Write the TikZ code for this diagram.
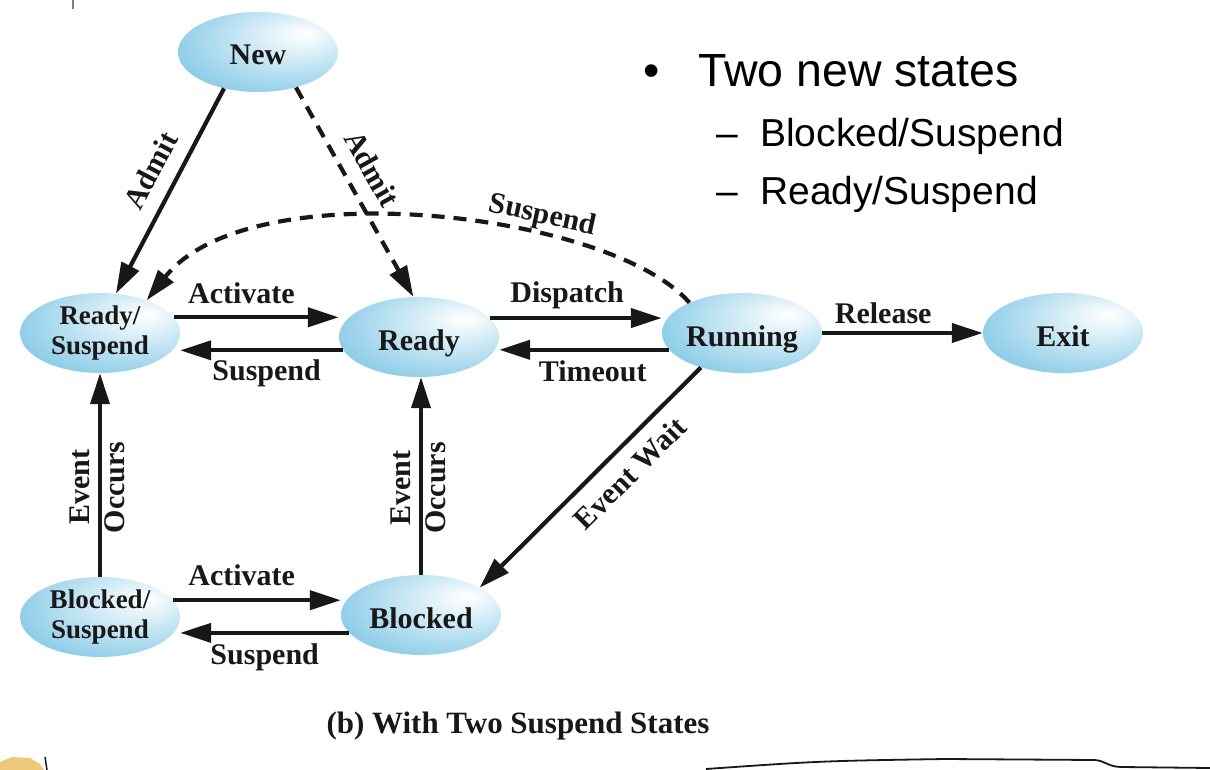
\documentclass[tikz,border=0pt]{standalone}
\usepackage{fontspec}
\setmainfont{Liberation Serif}
\newfontfamily\arialfont{Liberation Sans}
\usetikzlibrary{shapes.geometric,arrows.meta}
\definecolor{cb}{RGB}{72,174,218}
\colorlet{cbA}{white!92!cb}
\colorlet{cbB}{white!45!cb}
\colorlet{cbC}{white!10!cb}
\definecolor{ink}{RGB}{24,24,24}
\definecolor{blob}{RGB}{236,200,120}
\pgfdeclareradialshading{ellshade}{\pgfpoint{15bp}{12bp}}{color(0bp)=(white); color(5bp)=(cbA); color(30bp)=(cbB); color(50bp)=(cbC); color(66bp)=(cb)}
\begin{document}
\begin{tikzpicture}[x=1pt,y=-1pt,
 statebase/.style={ellipse, minimum width=160pt, minimum height=80pt, inner xsep=-12pt, inner ysep=-4pt, shading=ellshade, text=ink, align=center},
 state/.style={statebase, font=\fontsize{30}{30}\selectfont\bfseries, text height=26pt, text depth=0pt},
 state2/.style={statebase, font=\fontsize{27}{30}\selectfont\bfseries},
 arr/.style={line width=4.2pt, draw=ink, -{Triangle[length=31pt,width=19pt]}},
 darr/.style={arr, dash pattern=on 13pt off 9pt},
 lbl/.style={font=\fontsize{30}{30}\selectfont\bfseries, text=ink, inner sep=0pt},
 bl/.style={font=\arialfont\fontsize{46.5}{46.5}\selectfont, anchor=base west, inner sep=0pt},
 bl2/.style={font=\arialfont\fontsize{39}{39}\selectfont, anchor=base west, inner sep=0pt},
]
\useasboundingbox (0,0) rectangle (1210,770);

% states
\node[state]  (New)   at (258,52)  {New};
\node[state2] (RS)    at (100,333) {Ready/\\Suspend};
\node[state]  (Ready) at (419,337) {Ready};
\node[state]  (Run)   at (742,333) {Running};
\node[state]  (Exit)  at (1063,333) {Exit};
\node[state2] (BS)    at (100,617) {Blocked/\\Suspend};
\node[state]  (Blk)   at (421,615) {Blocked};

% admit
\draw[arr] (New.227) -- node[lbl, sloped, pos=0.46, above=14pt] {Admit} (RS.68);
\draw[darr] (New.317) -- node[lbl, sloped, pos=0.45, above=14pt] {Admit} (Ready.98);

% suspend arc
\draw[darr] (Run.150) .. controls (610,212) and (250,170) .. (RS.35)
  node[lbl, sloped, pos=0.33, above=2pt] {Suspend};

% horizontal row 1
\draw[arr] (RS.12) -- node[lbl, pos=0.41, anchor=base, yshift=14pt] {Activate} (RS.12 -| Ready.west);
\draw[arr] (Ready.190) -- node[lbl, pos=0.47, anchor=base, yshift=-30pt] {Suspend} (Ready.190 -| RS.east);
\draw[arr] (Ready.15.6) -- node[lbl, pos=0.45, anchor=base, yshift=16pt] {Dispatch} (Ready.15.6 -| Run.west);
\draw[arr] (Run.193) -- node[lbl, pos=0.45, anchor=base, yshift=-32pt] {Timeout} (Run.193 -| Ready.east);
\draw[arr] (Run.east) -- node[lbl, pos=0.38, anchor=base, yshift=10pt] {Release} (Exit.west);

% horizontal row 2
\draw[arr] (BS.13) -- node[lbl, pos=0.41, anchor=base, yshift=15pt] {Activate} (BS.13 -| Blk.west);
\draw[arr] (Blk.194) -- node[lbl, pos=0.5, anchor=base, yshift=-32pt] {Suspend} (Blk.194 -| BS.east);

% verticals
\draw[arr] (BS.north) -- node[lbl, sloped, pos=0.44, above=8pt] {Event} node[lbl, sloped, pos=0.44, below=3pt] {Occurs} (RS.south);
\draw[arr] (Blk.north) -- node[lbl, sloped, pos=0.44, above=8pt] {Event} node[lbl, sloped, pos=0.44, below=3pt] {Occurs} (Blk.north |- Ready.south);

% event wait
\draw[arr] (Run.220) -- node[lbl, sloped, pos=0.4, below=12pt] {Event Wait} (Blk.25);

% caption
\node[lbl, font=\fontsize{31}{31}\selectfont\bfseries, anchor=base] (title) at (518,733) {(b) With Two Suspend States};

% bullet text
\node[bl]  (b0) at (643,87)  {•};
\node[bl]  (t0) at (698,87)  {Two new states};
\node[bl2] (d1) at (716,147) {–};
\node[bl2] (t1) at (760,147) {Blocked/Suspend};
\node[bl2] (d2) at (716,205) {–};
\node[bl2] (t2) at (760,205) {Ready/Suspend};

% screenshot remnants
\draw[line width=1.8pt, ink] (706,769) .. controls (820,761) .. (945,759) -- (1095,760) .. controls (1106,761) and (1108,767) .. (1122,767) -- (1210,768);
\draw[line width=1.5pt, gray] (73,0) -- (73,9);
\fill[blob] (0,770) -- (0,762) -- (12,757) -- (30,758) -- (40,764) -- (44,770) -- cycle;
\draw[line width=1.5pt, ink] (45,757) -- (47,770);
\end{tikzpicture}
\end{document}
